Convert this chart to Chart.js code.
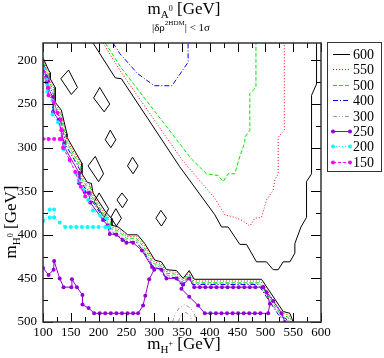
<!DOCTYPE html>
<html lang="en">
<head>
<meta charset="UTF-8" />
<title>m_A0 contours</title>
<script src="https://cdn.jsdelivr.net/npm/chart.js@4.4.0/dist/chart.umd.min.js"></script>
<style>
  html, body { margin: 0; padding: 0; background: #fff; }
  #wrap { width: 384px; height: 358px; position: relative; }
</style>
</head>
<body>
<div id="wrap"><canvas id="chart"></canvas></div>
<script>
const FONT = 'Liberation Serif';

// axes
const xTicks = [100, 150, 200, 250, 300, 350, 400, 450, 500, 550, 600];
const xMinorTicks = [125, 175, 225, 275, 325, 375, 425, 475, 525, 575];
const yTicks = [200, 250, 300, 350, 400, 450, 500];
const yMinorTicks = [225, 275, 325, 375, 425, 475];

// legend order (m_A0 in GeV)
const levels = ['600', '550', '500', '400', '300', '250', '200', '150'];

// contour pieces, points are [m_H+, m_H0]
const c600_upper = [[190,180],[230,220],[241,221],[346,322],[409,377],[421,391],[433,391],[454,411],[466,411],[484,431],[502,431],[514,440],[523,440],[532,431],[544,431],[553,421],[553,410],[564,391],[574,380],[574,339],[583,330],[583,240],[592,227],[592,180]];
const c600_band = [[100,197],[110,211],[113,214],[113,221],[122,231],[122,248],[133,257],[143,284],[143,288],[170,318],[170,330],[180,340],[187,341],[190,352],[213,374],[223,381],[224,389],[235,391],[247,397],[252,400],[270,400],[283,410],[301,429],[313,431],[322,440],[340,441],[352,450],[363,441],[372,451],[493,451],[532,488],[544,490],[550,500]];
const c600_islands = [
  [[132,221],[146,211],[162,231],[151,239],[132,221]],
  [[191,243],[202,231],[220,250],[210,259],[191,243]],
  [[212,291],[221,280],[231,291],[222,300],[212,291]],
  [[181,321],[194,310],[209,330],[200,339],[181,321]],
  [[252,321],[261,311],[271,321],[262,330],[252,321]],
  [[192,362],[201,352],[218,370],[210,380],[192,362]],
  [[233,360],[242,352],[252,360],[243,369],[233,360]],
  [[222,380],[231,370],[241,381],[232,390],[222,380]],
  [[303,381],[312,372],[322,381],[313,390],[303,381]]
];

const c550_upper = [[208,180],[240,213],[350,314],[409,358],[427,377],[445,380],[460,384],[472,390],[481,381],[493,380],[502,360],[514,349],[517,337],[523,330],[523,288],[534,280],[534,180]];
const c550_band = [[100,199],[109,212],[112,216],[112,223],[121,233],[121,250],[132,259],[142,286],[142,290],[169,320],[169,332],[179,342],[186,343],[189,354],[212,376],[222,383],[223,391],[234,393],[246,399],[251,402],[269,402],[282,412],[300,431],[312,433],[321,442],[339,443],[351,452],[363,443],[371,453],[491,453],[530,490],[542,492],[547,500]];

const c500_upper = [[212,180],[240,208],[367,313],[394,330],[415,332],[424,339],[433,330],[445,330],[454,310],[463,294],[463,288],[472,280],[472,238],[483,231],[483,180]];
const c500_band = [[100,201],[108,214],[111,218],[111,225],[120,235],[120,252],[131,261],[141,288],[141,292],[168,322],[168,334],[178,344],[185,345],[188,356],[211,378],[221,385],[222,393],[233,395],[245,401],[250,404],[268,404],[281,414],[299,433],[311,435],[320,444],[338,445],[350,454],[363,445],[370,455],[489,455],[528,492],[540,494],[545,500]];

const c400_upper = [[226,180],[238,192],[270,215],[300,229],[332,229],[361,202],[361,180]];
const c400_band = [[100,205],[107,217],[110,221],[110,229],[119,239],[119,256],[130,265],[140,292],[140,296],[167,326],[167,338],[177,348],[184,349],[187,360],[210,382],[220,389],[221,397],[232,399],[244,405],[249,408],[267,408],[280,418],[298,437],[310,439],[319,448],[337,449],[350,458],[362,449],[369,457],[487,457],[526,494],[537,496],[541,500]];

const c300_band = [[100,203],[107,215],[110,219],[110,227],[119,237],[119,254],[130,263],[140,290],[140,294],[167,324],[167,336],[177,346],[184,347],[187,358],[210,380],[220,387],[221,395],[232,397],[244,403],[249,406],[267,406],[280,416],[298,435],[310,437],[319,446],[337,447],[350,456],[362,447],[369,456],[488,456],[527,494],[538,496],[543,500]];
const c300_loop = [[333,500],[338,490],[345,484],[355,480],[365,484],[372,490],[376,500]];
const c300_inner = [[343,500],[348,492],[357,489],[365,493],[368,500]];

const c250_band = [[100,207],[106,219],[109,224],[109,232],[118,242],[118,259],[128,268],[138,295],[138,299],[165,329],[165,341],[175,351],[182,352],[185,363],[208,383],[216,389],[220,399],[232,400],[243,406],[250,409],[262,409],[278,418],[296,437],[313,440],[322,450],[340,450],[352,457],[363,450],[372,460],[382,460],[392,460],[402,460],[412,460],[422,460],[432,460],[442,460],[452,460],[462,460],[472,460],[482,460],[496,460],[514,476],[529,490],[535,500]];
const c250_right = [[352,457],[349,462],[363,471],[379,481],[391,490],[401,490],[411,490],[421,490],[431,490],[441,490],[451,490],[461,490],[471,490],[481,490],[491,490],[505,490],[508,479],[502,466],[496,460]];
const c250_left = [[100,438],[110,446],[119,440],[120,430],[130,450],[137,460],[151,460],[152,451],[161,460],[171,469],[171,480],[182,484],[192,490],[202,490],[212,490],[222,490],[232,490],[242,490],[252,490],[262,490],[271,490],[280,481],[284,470],[291,451],[300,440]];

const c200_band = [[100,209],[106,222],[108,228],[108,236],[117,246],[117,262],[127,271],[137,298],[137,302],[148,315],[160,330],[164,338],[172,348],[181,360],[190,372],[203,378],[214,381],[218,391]];
const c200_side = [[100,384],[112,380],[120,380],[130,386],[140,391],[150,391],[160,391],[170,391],[180,391],[190,391],[200,391],[212,391]];
const c200_notch = [[100,384],[112,371],[120,371],[120,380]];

const c150_band = [[100,213],[106,225],[109,231],[110,240],[120,248],[126,260],[132,268],[134,280],[136,300],[148,314],[158,328],[168,345],[176,356]];
const c150_side = [[100,290],[110,290],[120,290],[130,290],[133,290],[133,280]];

const pieces = [
  ['150', c150_band], ['150', c150_side],
  ['200', c200_band], ['200', c200_side], ['200', c200_notch],
  ['250', c250_band], ['250', c250_right], ['250', c250_left],
  ['300', c300_band], ['300', c300_loop], ['300', c300_inner],
  ['400', c400_upper], ['400', c400_band],
  ['500', c500_upper], ['500', c500_band],
  ['550', c550_upper], ['550', c550_band],
  ['600', c600_upper], ['600', c600_band],
  ...c600_islands.map(p => ['600', p])
];

const lineStyle = {
  '600': { color: '#000000', dash: [], r: 0 },
  '550': { color: '#ff0000', dash: [1, 2], r: 0 },
  '500': { color: '#00e600', dash: [4, 2], r: 0 },
  '400': { color: '#0000ff', dash: [5, 2, 1, 2], r: 0 },
  '300': { color: '#bc8f8f', dash: [4, 2, 1, 2, 1, 2], r: 0 },
  '250': { color: '#9400d3', dash: [], r: 2 },
  '200': { color: '#00ffff', dash: [1, 2], r: 2 },
  '150': { color: '#ff00ff', dash: [3, 2], r: 2 }
};

const datasets = pieces.map(([lev, pts]) => {
  const st = lineStyle[lev];
  return {
    label: lev,
    data: pts.map(([x, y]) => ({ x, y })),
    showLine: true,
    borderColor: st.color,
    borderDash: st.dash,
    borderWidth: 1,
    pointRadius: st.r,
    pointBackgroundColor: st.color,
    pointBorderWidth: 0,
    tension: 0,
    fill: false
  };
});

// draw text with sub/superscripts: parts = [text, size, dy]
function richText(ctx, parts, x, y) {
  let w = 0;
  parts.forEach(([t, s]) => { ctx.font = s + 'px "' + FONT + '"'; w += ctx.measureText(t).width; });
  let cx = x - w / 2;
  ctx.textAlign = 'left';
  ctx.textBaseline = 'alphabetic';
  parts.forEach(([t, s, dy]) => {
    ctx.font = s + 'px "' + FONT + '"';
    ctx.fillText(t, cx, y + dy);
    cx += ctx.measureText(t).width;
  });
}

const frameTicks = {
  id: 'frameTicks',
  afterDatasetsDraw(chart) {
    const { ctx, chartArea: a, scales: { x, y } } = chart;
    ctx.save();
    ctx.strokeStyle = '#000';
    ctx.lineWidth = 1;
    ctx.beginPath();
    const xt = (v, len) => {
      const p = Math.round(x.getPixelForValue(v)) + 0.5;
      ctx.moveTo(p, a.bottom); ctx.lineTo(p, a.bottom - len);
      ctx.moveTo(p, a.top); ctx.lineTo(p, a.top + len);
    };
    const yt = (v, len) => {
      const p = Math.round(y.getPixelForValue(v)) + 0.5;
      ctx.moveTo(a.left, p); ctx.lineTo(a.left + len, p);
      ctx.moveTo(a.right, p); ctx.lineTo(a.right - len, p);
    };
    xTicks.forEach(v => xt(v, 9));
    xMinorTicks.forEach(v => xt(v, 5));
    yTicks.forEach(v => yt(v, 10));
    yMinorTicks.forEach(v => yt(v, 5));
    ctx.stroke();
    ctx.lineWidth = 1.5;
    ctx.strokeStyle = '#333';
    ctx.strokeRect(a.left, a.top, a.right - a.left, a.bottom - a.top);
    ctx.restore();
  }
};

const titles = {
  id: 'titles',
  afterDraw(chart) {
    const ctx = chart.ctx;
    ctx.save();
    ctx.fillStyle = '#000';
    richText(ctx, [['m', 17, 0], ['A', 11, 4], ['0', 8, -3], [' [GeV]', 17, 0]], 184, 14);
    richText(ctx, [['|\u03b4\u03c1', 11, 0], ['2HDM', 7, -6], ['| < 1\u03c3', 11, 0]], 181, 31);
    richText(ctx, [['m', 17, 0], ['H', 11, 4], ['+', 8, -3], [' [GeV]', 17, 0]], 184, 349);
    ctx.translate(16, 222);
    ctx.rotate(-Math.PI / 2);
    richText(ctx, [['m', 17, 0], ['H', 11, 4], ['0', 8, -3], [' [GeV]', 17, 0]], 0, 0);
    ctx.restore();
  }
};

const legendBox = {
  id: 'legendBox',
  afterDraw(chart) {
    const ctx = chart.ctx;
    ctx.save();
    ctx.strokeStyle = '#333';
    ctx.lineWidth = 1;
    ctx.strokeRect(327.5, 42.5, 54, 129);
    levels.forEach((lev, i) => {
      const st = lineStyle[lev];
      const yy = Math.round(54 + i * 15.4) + 0.5;
      ctx.strokeStyle = st.color;
      ctx.setLineDash(st.dash);
      ctx.beginPath();
      ctx.moveTo(333, yy); ctx.lineTo(350, yy);
      ctx.stroke();
      ctx.setLineDash([]);
      if (st.r) {
        ctx.fillStyle = st.color;
        [333, 350].forEach(px => { ctx.beginPath(); ctx.arc(px, yy, st.r, 0, Math.PI * 2); ctx.fill(); });
      }
      ctx.fillStyle = '#000';
      ctx.font = '14px "' + FONT + '"';
      ctx.textAlign = 'left';
      ctx.textBaseline = 'middle';
      ctx.fillText(lev, 353, yy + 1);
    });
    ctx.restore();
  }
};

new Chart(document.getElementById('chart'), {
  type: 'scatter',
  data: { datasets },
  options: {
    responsive: true,
    maintainAspectRatio: false,
    animation: false,
    layout: { padding: { top: 43, right: 63, left: 0, bottom: 0 } },
    plugins: { legend: { display: false }, tooltip: { enabled: false } },
    scales: {
      x: {
        type: 'linear', min: 100, max: 600,
        grid: { display: false, drawTicks: false },
        border: { display: false },
        afterBuildTicks: s => { s.ticks = xTicks.map(v => ({ value: v })); },
        afterFit: s => { s.height = 36; },
        ticks: { font: { family: FONT, size: 13 }, color: '#000', padding: 3, maxRotation: 0, autoSkip: false }
      },
      y: {
        type: 'linear', min: 180, max: 500, reverse: true,
        grid: { display: false, drawTicks: false },
        border: { display: false },
        afterBuildTicks: s => { s.ticks = yTicks.map(v => ({ value: v })); },
        afterFit: s => { s.width = 43; },
        ticks: { font: { family: FONT, size: 13 }, color: '#000', padding: 6, autoSkip: false }
      }
    }
  },
  plugins: [frameTicks, titles, legendBox]
});
</script>
</body>
</html>
